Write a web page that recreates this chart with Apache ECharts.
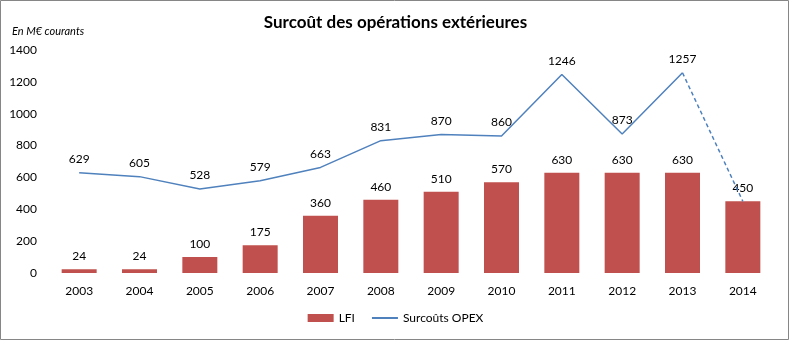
<!DOCTYPE html>
<html><head><meta charset="utf-8">
<script src="https://cdn.jsdelivr.net/npm/echarts@6/dist/echarts.min.js"></script>
<style>html,body{margin:0;padding:0;background:#fff}#c{width:791px;height:341px}</style>
</head><body><div id="c"></div>
<script>
const categories = ['2003','2004','2005','2006','2007','2008','2009','2010','2011','2012','2013','2014'];
const lfiValues = [24,24,100,175,360,460,510,570,630,630,630,450];
const opexValues = [629,605,528,579,663,831,870,860,1246,873,1257,450];
const yTicks = [0,200,400,600,800,1000,1200,1400];

const solidOpex = opexValues.map((v,i)=> i <= 10 ? v : null);
const dashedOpex = opexValues.map((v,i)=> i >= 10 ? v : null);
const labelOpex = opexValues.map((v,i)=> i <= 10 ? v : null);

const FONT = 'Lato, "Open Sans", sans-serif';
const chart = echarts.init(document.getElementById('c'), null, {renderer:'canvas'});
chart.setOption({
  animation:false,
  textStyle:{fontFamily:FONT, color:'#000'},
  title:{text:'Surcoût des opérations extérieures', left:'center', top:9,
    textStyle:{fontFamily:FONT, fontSize:17, fontWeight:'bold', color:'#000'}},
  graphic:[
    {type:'rect', shape:{x:0.5,y:0.5,width:788,height:339}, style:{fill:'none', stroke:'#868686', lineWidth:1}, silent:true},
    {type:'text', left:12, top:26, style:{text:'En M€ courants', font:'italic 11px '+FONT, fill:'#000'}}
  ],
  legend:{bottom:12, left:'center', itemWidth:26, itemHeight:8, itemGap:16,
    textStyle:{fontFamily:FONT, fontSize:12, color:'#000'},
    data:[{name:'LFI', icon:'rect'}, {name:'Surcoûts OPEX', itemStyle:{opacity:0}}]},
  grid:{left:49, right:18, top:50, bottom:68},
  xAxis:{type:'category', data:categories,
    axisLine:{show:false}, axisTick:{show:false},
    axisLabel:{fontSize:12, color:'#000', margin:12, fontFamily:FONT}},
  yAxis:{type:'value', min:yTicks[0], max:yTicks[yTicks.length-1], interval:200,
    splitLine:{show:false}, axisLine:{show:false}, axisTick:{show:false},
    axisLabel:{fontSize:12, color:'#000', margin:12, fontFamily:FONT, formatter:v=>String(v)}},
  series:[
    {name:'LFI', type:'bar', data:lfiValues, barWidth:'58%',
      itemStyle:{color:'#C0504D'},
      label:{show:true, position:'top', distance:7, fontSize:12, color:'#000', fontFamily:FONT}},
    {name:'Surcoûts OPEX', type:'line', data:solidOpex, symbol:'none',
      lineStyle:{color:'#4F81BD', width:1.5}, itemStyle:{color:'#4F81BD'}, z:3},
    {name:'Surcoûts OPEX (prév.)', type:'line', data:dashedOpex, symbol:'none',
      lineStyle:{color:'#4F81BD', width:1.5, type:[4,3]}, itemStyle:{color:'#4F81BD'}, z:3},
    {name:'labels', type:'line', data:labelOpex, symbol:'circle', symbolSize:1, showAllSymbol:true,
      lineStyle:{opacity:0}, itemStyle:{color:'rgba(0,0,0,0)'}, z:4,
      label:{show:true, position:'top', distance:7, fontSize:12, color:'#000', fontFamily:FONT}}
  ]
});
</script></body></html>
